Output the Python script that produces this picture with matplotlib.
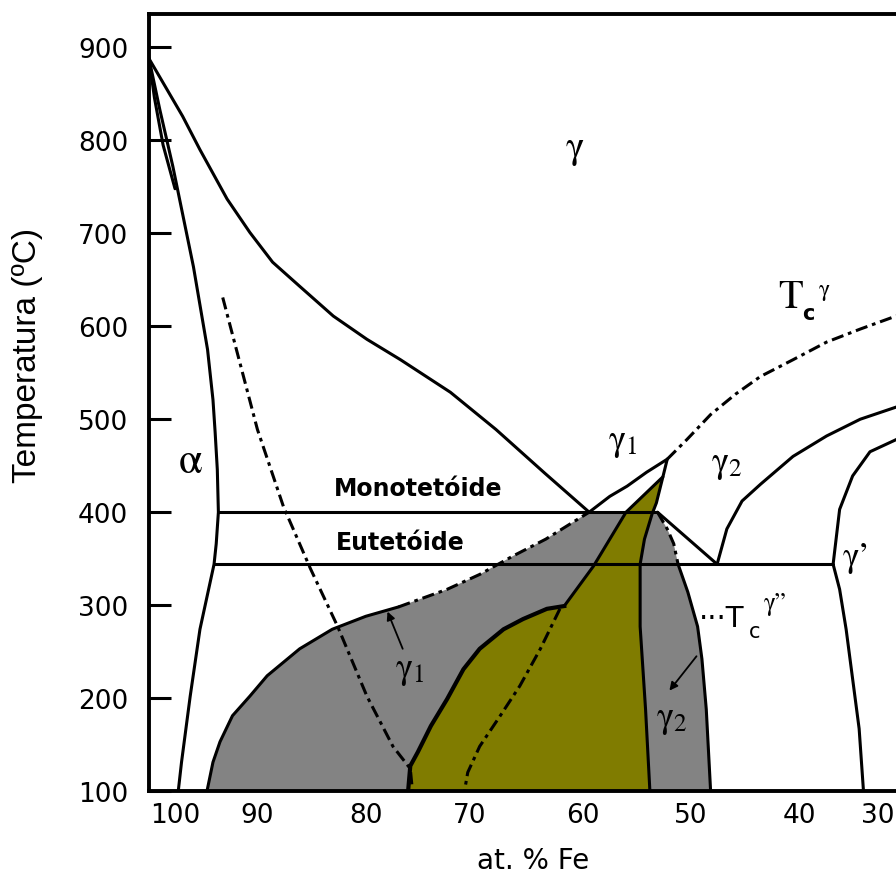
import matplotlib
matplotlib.use("Agg")
import matplotlib.pyplot as plt

plt.rcParams['mathtext.fontset'] = 'stix'

# ---- digitised boundaries (at.% Fe, temperature in C) ----
# upper solvus from the top left corner down to the monotectoid point
solvusX = [100.0, 96.9, 95.3, 92.8, 90.7, 88.6, 86.1, 83.0, 79.9, 76.8, 72.2, 68.0, 63.5, 59.4]
solvusT = [888, 826, 790, 737, 701, 669, 643, 611, 586, 564, 529, 489, 442, 400]

# alpha boundary (two close lines at the top)
alphaX = [100.0, 99.0, 97.8, 95.9, 94.6, 94.1, 93.9, 93.7, 93.6, 93.8, 94.0, 95.3, 96.2, 97.0, 97.3]
alphaT = [888, 833, 772, 664, 575, 521, 486, 446, 400, 366, 344, 274, 202, 131, 100]
alpha2X = [100.0, 99.5, 98.7, 97.6]
alpha2T = [888, 846, 795, 748]

# alpha Curie line (dash dot)
curieAX = [93.2, 90.0, 87.6, 85.1, 82.6, 79.9, 77.5, 75.9, 75.7]
curieAT = [631, 489, 406, 339, 277, 202, 148, 124, 100]

# invariant lines
monoT = 400
monoX = [93.6, 53.1]
eutT = 344
eutX = [94.0, 36.9]

# gamma1 dome up to the peak
domeX = [59.4, 57.5, 55.9, 54.1, 52.2]
domeT = [400, 417, 428, 443, 457]

# left gray region, upper boundary (solid then dashed)
arcX = [94.65, 94.1, 93.45, 92.3, 90.7, 89.1, 86.1, 83.1, 80.0, 77.0]
arcT = [100, 131, 153, 181, 202, 224, 253, 274, 288, 298]
arcDashX = [77.0, 72.5, 69.5, 66.4, 63.4, 61.2, 59.4]
arcDashT = [298, 317, 333, 353, 371, 387, 400]

# yellow region, left side: rough lower part and straight upper part
roughX = [76.1, 75.9, 75.2, 74.0, 72.5, 71.0, 69.5, 67.3, 65.5, 63.3, 61.7]
roughT = [100, 127, 142, 170, 199, 231, 253, 274, 285, 296, 299]
yLeftX = [61.7, 59.0, 56.0, 52.6]
yLeftT = [299, 342, 400, 438]
# line from the peak down to the bottom (yellow right side)
yRightX = [52.2, 52.6, 53.2, 53.6, 54.3, 54.7, 54.7, 54.2, 53.8]
yRightT = [457, 438, 410, 398, 371, 344, 277, 188, 100]

# dash dot line inside the yellow region
curieYX = [62.1, 63.9, 65.8, 67.6, 69.5, 70.6, 70.9]
curieYT = [296, 253, 213, 181, 148, 120, 100]

# right gray region, right side (dashed part then solid)
rDashX = [53.1, 52.2, 51.6, 51.2]
rDashT = [400, 382, 366, 344]
rSolidX = [51.2, 50.3, 49.4, 49.0, 48.6, 48.2]
rSolidT = [344, 314, 277, 242, 188, 100]

# straight line from monotectoid end to eutectoid point
tieX = [53.1, 47.6]
tieT = [400, 344]

# gamma2 boundary
g2X = [47.6, 46.7, 45.3, 43.6, 40.6, 37.5, 34.4, 31.1, 30.1]
g2T = [344, 382, 412, 430, 460, 482, 500, 513, 517]

# gamma' boundary
gpX = [34.1, 34.5, 35.7, 36.3, 36.9, 36.3, 35.1, 33.5, 31.1, 29.8]
gpT = [100, 167, 274, 317, 344, 403, 439, 465, 478, 485]

# Curie line of gamma
tcX = [52.2, 50.4, 48.2, 45.9, 43.6, 40.6, 37.5, 34.4, 31.1, 29.8]
tcT = [457, 478, 505, 527, 546, 564, 583, 597, 611, 615]

yTicks = [100, 200, 300, 400, 500, 600, 700, 800, 900]
xTickMarks = [90, 80, 60, 50, 40]
xLabelPos = [97.6, 90, 80, 70.4, 60, 50, 40, 32.8]
xLabelTxt = ['100', '90', '80', '70', '60', '50', '40', '30']

gray = '#838383'
olive = '#807c00'

fig = plt.figure(figsize=(8.96, 8.79), dpi=100)
ax = fig.add_axes([149/896, 1 - 792/879, 1 - 149/896, (792 - 15)/879])

# fills
leftGrayX = arcX + arcDashX[1:] + [56.0] + yLeftX[:3][::-1] + roughX[::-1]
leftGrayT = arcT + arcDashT[1:] + [400] + yLeftT[:3][::-1] + roughT[::-1]
ax.fill(leftGrayX, leftGrayT, color=gray, zorder=1, lw=0)

yellowX = roughX + yLeftX[1:] + yRightX[1:]
yellowT = roughT + yLeftT[1:] + yRightT[1:]
ax.fill(yellowX, yellowT, color=olive, zorder=1, lw=0)

rightGrayX = rDashX + rSolidX[1:] + yRightX[3:][::-1]
rightGrayT = rDashT + rSolidT[1:] + yRightT[3:][::-1]
ax.fill(rightGrayX, rightGrayT, color=gray, zorder=1, lw=0)

lw = 2.2
dd = (0, (4, 1.6, 1.2, 1.6))
solid = [(solvusX, solvusT), (alphaX, alphaT), (alpha2X, alpha2T),
         (monoX, [monoT, monoT]), (eutX, [eutT, eutT]), (domeX, domeT),
         (arcX, arcT), (yLeftX, yLeftT), (yRightX, yRightT), (rSolidX, rSolidT),
         (tieX, tieT), (g2X, g2T), (gpX, gpT)]
for xs, ts in solid:
    ax.plot(xs, ts, color='black', lw=lw, zorder=3, solid_capstyle='round',
            solid_joinstyle='round')
ax.plot(roughX, roughT, color='black', lw=3.0, zorder=3, solid_joinstyle='round')

dashed = [(curieAX, curieAT), (arcDashX, arcDashT), (curieYX, curieYT),
          (rDashX, rDashT), (tcX, tcT)]
for xs, ts in dashed:
    ax.plot(xs, ts, color='black', lw=lw, ls=dd, zorder=3)

# labels
greek = dict(family='STIXGeneral', color='black', ha='center', va='center', zorder=4)
ax.text(60.7, 792, 'γ', fontsize=28, **greek)
ax.text(96.2, 454, 'α', fontsize=31, **greek)
ax.text(56.3, 475, r'$\mathrm{\gamma}_{1}$', fontsize=26, ha='center', va='center')
ax.text(46.7, 452, r'$\mathrm{\gamma}_{2}$', fontsize=26, ha='center', va='center')
ax.text(75.9, 230, r'$\mathrm{\gamma}_{1}$', fontsize=26, ha='center', va='center')
ax.text(51.75, 177, r'$\mathrm{\gamma}_{2}$', fontsize=26, ha='center', va='center')
ax.text(34.7, 352, 'γ’', fontsize=25, **greek)

ax.text(40.8, 631, 'T', fontsize=29, **greek)
ax.text(39.2, 614, 'c', fontsize=15, fontweight='bold', family='DejaVu Sans',
        ha='center', va='center')
ax.text(37.7, 640, 'γ', fontsize=17, **greek)

ax.text(49.3, 277, '···T', fontsize=21, family='DejaVu Sans', ha='left', va='baseline')
ax.text(44.1, 272, 'c', fontsize=15, family='DejaVu Sans', ha='center', va='center')
ax.text(42.2, 302, 'γ”', fontsize=18, **greek)

ax.text(75.2, 426, 'Monotetóide', fontsize=17, fontweight='bold', family='DejaVu Sans',
        ha='center', va='center')
ax.text(76.8, 368, 'Eutetóide', fontsize=17, fontweight='bold', family='DejaVu Sans',
        ha='center', va='center')

arrow = dict(arrowstyle='-|>', lw=1.3, color='black', mutation_scale=12, shrinkA=0, shrinkB=0)
ax.annotate('', xy=(78.0, 293), xytext=(76.6, 253), arrowprops=arrow, zorder=4)
ax.annotate('', xy=(52.0, 208), xytext=(49.5, 245), arrowprops=arrow, zorder=4)

# axes
ax.set_xlim(100, 31.1)
ax.set_ylim(100, 936)
ax.spines['right'].set_visible(False)
for s in ['left', 'top', 'bottom']:
    ax.spines[s].set_linewidth(2.8)

ax.set_yticks(yTicks)
ax.tick_params(axis='y', direction='in', length=16, width=2.2, pad=15, labelsize=19)
ax.set_xticks(xLabelPos)
ax.set_xticklabels(xLabelTxt)
ax.tick_params(axis='x', which='major', length=0, pad=8, labelsize=19)
ax.set_xticks(xTickMarks, minor=True)
ax.tick_params(axis='x', which='minor', direction='in', length=17, width=2.2)

ax.set_xlabel('at. % Fe', fontsize=20, va='center')
ax.xaxis.set_label_coords(0.514, -0.089)
ax.set_ylabel('Temperatura (ºC)', fontsize=24, family='Liberation Sans', va='center')
ax.yaxis.set_label_coords(-0.163, 0.562)

fig.savefig('out.png', dpi=100)
